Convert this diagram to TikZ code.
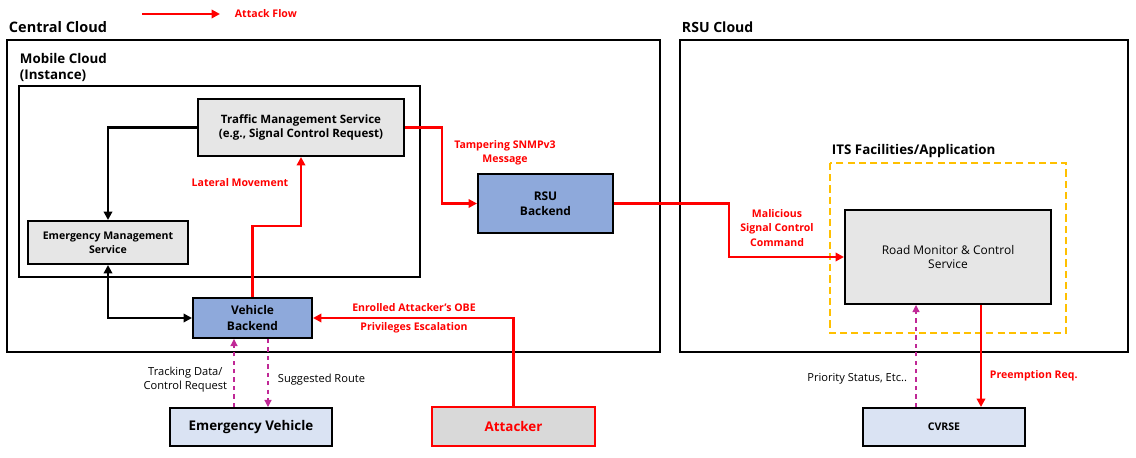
\documentclass[tikz,border=0pt]{standalone}
\usepackage{fontspec}
\setmainfont{Open Sans}
\usetikzlibrary{arrows.meta}
\definecolor{atkred}{RGB}{255,0,0}
\definecolor{grayfill}{RGB}{230,230,230}
\definecolor{bluefill}{RGB}{142,169,219}
\definecolor{lightblue}{RGB}{218,227,243}
\definecolor{msgpink}{RGB}{192,40,150}
\definecolor{itsorange}{RGB}{255,192,0}
\tikzset{
  box/.style={draw,line width=1.4pt,align=center,inner sep=1pt,font=\fontsize{7.5}{10}\selectfont\bfseries},
  atk/.style={atkred,line width=2pt,-{Triangle[length=6pt,width=6pt]}},
  ctl/.style={black,line width=2pt,-{Triangle[length=6pt,width=6pt]}},
  msg/.style={msgpink,line width=0.8pt,dashed,-{Triangle[length=5pt,width=5pt]}},
  atklabel/.style={atkred,align=center,font=\fontsize{7.5}{10}\selectfont\bfseries},
  msglabel/.style={align=center,font=\fontsize{7.9}{10}\selectfont},
  title/.style={anchor=west,font=\fontsize{10.3}{12}\selectfont\bfseries}
}
\begin{document}
\begin{tikzpicture}[x=0.025cm,y=-0.025cm]
  \useasboundingbox (0,0) rectangle (1136,458);
  % legend
  \coordinate (lgs) at (142,14);
  \coordinate (lge) at (220,14);
  \draw[atk] (lgs) -- (lge);
  \node[atklabel,anchor=west] (lgt) at (230,14) {Attack Flow};
  % clouds
  \node[title] (cc) at (4,27) {Central Cloud};
  \draw[line width=1.4pt] (7,40) rectangle (660,352);
  \node[title,anchor=north west,align=left,font=\fontsize{9.5}{12}\selectfont\bfseries] (mc) at (15,48) {Mobile Cloud\\(Instance)};
  \draw[line width=1.4pt] (19,86) rectangle (420,277);
  \node[title,font=\fontsize{10}{12}\selectfont\bfseries] (rc) at (677,27) {RSU Cloud};
  \draw[line width=1.4pt] (680,40) rectangle (1128,352);
  \node[title,font=\fontsize{9.5}{12}\selectfont\bfseries] (its) at (827,151) {ITS Facilities/Application};
  \draw[itsorange,line width=1.2pt,dash pattern=on 5pt off 3pt] (830,163) rectangle (1066,333);
  % services
  \node[box,fill=grayfill,minimum width=5.15cm,minimum height=1.425cm,font=\fontsize{8.2}{10}\selectfont\bfseries] (tms) at (301,127.5) {Traffic Management Service\\(e.g., Signal Control Request)};
  \node[box,fill=grayfill,minimum width=4cm,minimum height=1.075cm] (ems) at (108,242.5) {Emergency Management\\Service};
  \node[box,fill=bluefill,minimum width=2.975cm,minimum height=1cm,font=\fontsize{8.5}{11}\selectfont\bfseries] (vb) at (252.5,318) {Vehicle\\Backend};
  \node[box,fill=bluefill,minimum width=3.375cm,minimum height=1.475cm,font=\fontsize{8.5}{11}\selectfont\bfseries] (rsu) at (545.5,203.5) {RSU\\Backend};
  \node[box,fill=grayfill,minimum width=5.15cm,minimum height=2.35cm,font=\fontsize{8.5}{10.5}\selectfont] (rms) at (948,257) {Road Monitor \& Control\\Service};
  \node[box,fill=lightblue,minimum width=4.05cm,minimum height=0.95cm,font=\fontsize{9.5}{12}\selectfont\bfseries] (ev) at (251,427) {Emergency Vehicle};
  \node[box,draw=atkred,text=atkred,fill=black!15,minimum width=4.075cm,minimum height=0.975cm,font=\fontsize{9.5}{12}\selectfont\bfseries] (att) at (513.5,426.5) {Attacker};
  \node[box,fill=lightblue,minimum width=4.05cm,minimum height=0.95cm] (cv) at (944,427) {CVRSE};
  % control flow
  \draw[ctl] (tms.west) -| (ems.north);
  \draw[ctl,{Triangle[length=6pt,width=6pt]}-{Triangle[length=6pt,width=6pt]}] (ems.south) |- (vb.west);
  % attack flow
  \draw[atk] (vb.north) -- ++(0,-71) -| (tms.south);
  \node[atklabel] (lat) at (240,183) {Lateral Movement};
  \draw[atk] (tms.east) -- ++(37,0) |- (rsu.west);
  \node[atklabel] (tmp) at (505,153) {Tampering SNMPv3\\Message};
  \draw[atk] (rsu.east) -- ++(115,0) |- (rms.west);
  \node[atklabel] (mal) at (777,228) {Malicious\\Signal Control\\Command};
  \draw[atk] (att.north) |- (vb.east);
  \node[atklabel] (obe) at (414,308) {Enrolled Attacker's OBE};
  \node[atklabel] (esc) at (414,328) {Privileges Escalation};
  \coordinate (pre) at (981,0);
  \draw[atk] (rms.south -| pre) -- (cv.north -| pre);
  \node[atklabel,anchor=west] (prl) at (985,376) {Preemption Req.};
  % messages
  \coordinate (trk) at (234,0);
  \coordinate (sug) at (268,0);
  \coordinate (pri) at (916,0);
  \draw[msg] (ev.north -| trk) -- (vb.south -| trk);
  \node[msglabel,anchor=east] (trl) at (232,380) {Tracking Data/\\Control Request};
  \draw[msg] (vb.south -| sug) -- (ev.north -| sug);
  \node[msglabel,anchor=west] (sgl) at (273,380) {Suggested Route};
  \draw[msg] (cv.north -| pri) -- (rms.south -| pri);
  \node[msglabel,anchor=east] (prs) at (912,379) {Priority Status, Etc..};
\end{tikzpicture}
\end{document}
